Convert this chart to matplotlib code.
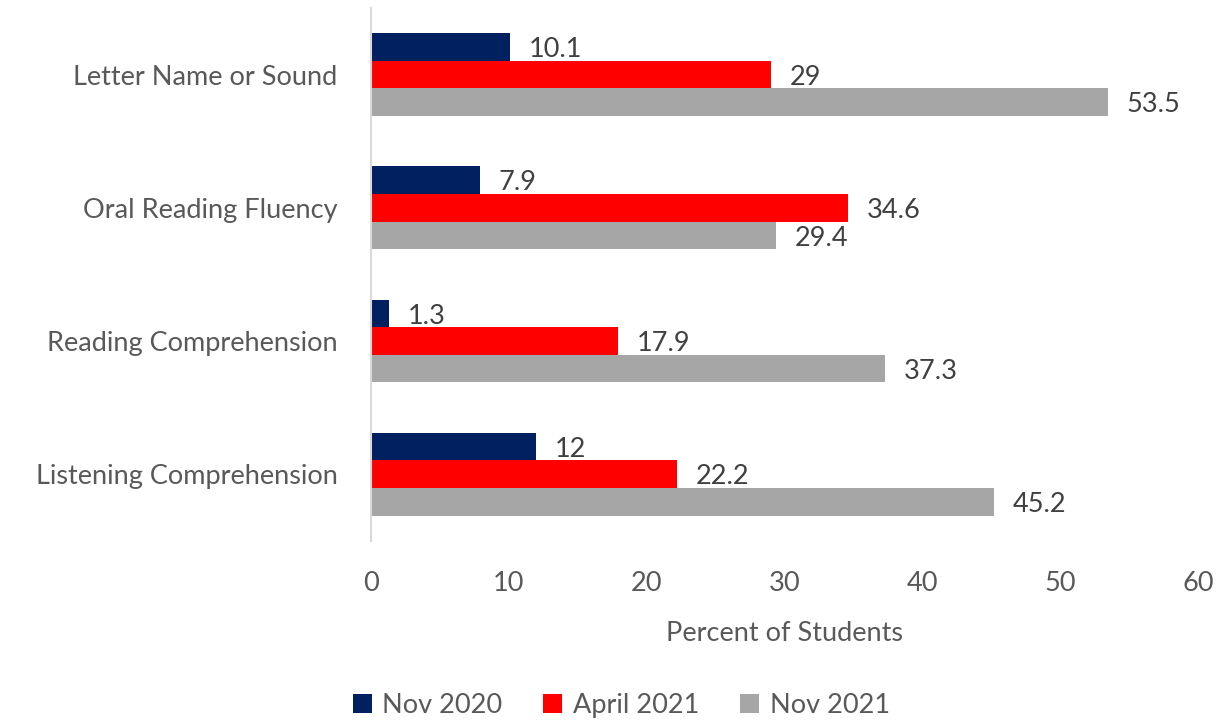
import matplotlib.pyplot as plt
import numpy as np

# share of students at risk, by skill and testing window
skills = ['Letter Name or Sound', 'Oral Reading Fluency',
          'Reading Comprehension', 'Listening Comprehension']
nov_2020 = [10.1, 7.9, 1.3, 12]
april_2021 = [29, 34.6, 17.9, 22.2]
nov_2021 = [53.5, 29.4, 37.3, 45.2]
x_ticks = [0, 10, 20, 30, 40, 50, 60]

txt = '#595959'
fs = 19.5
plt.rcParams['font.family'] = ['Lato', 'DejaVu Sans']

fig = plt.figure(figsize=(12.25, 7.24), dpi=100)
ax = fig.add_axes([0.3029, 0.253, 0.675, 0.736])

y = np.arange(len(skills))
h = 0.207
series = [
    (nov_2020, 'Nov 2020', '#002060', -h),
    (april_2021, 'April 2021', '#FF0000', 0),
    (nov_2021, 'Nov 2021', '#A6A6A6', h),
]
for vals, lab, col, off in series:
    bars = ax.barh(y + off, vals, height=h, color=col, label=lab)
    for b, v in zip(bars, vals):
        ax.text(b.get_width() + 1.35, b.get_y() + b.get_height() / 2 + 0.02,
                f'{v:g}', va='center', ha='left', fontsize=fs, color='#404040')

ax.set_ylim(3.5, -0.5)
ax.set_xlim(0, 60)
ax.set_xticks(x_ticks)
ax.set_yticks(y)
ax.set_yticklabels(skills)
ax.tick_params(axis='both', length=0, labelsize=fs, labelcolor=txt)
ax.tick_params(axis='x', pad=22)
ax.tick_params(axis='y', pad=24)
ax.set_xlabel('Percent of Students', fontsize=fs, color=txt, labelpad=18)

for s in ['top', 'right', 'bottom']:
    ax.spines[s].set_visible(False)
ax.spines['left'].set_color('#D9D9D9')
ax.spines['left'].set_linewidth(1.5)

handles, labels = ax.get_legend_handles_labels()
fig.legend(handles, labels, loc='lower center', bbox_to_anchor=(0.507, -0.025),
           ncol=3, frameon=False, fontsize=fs, labelcolor=txt,
           handlelength=0.7, handleheight=0.7, handletextpad=0.4,
           columnspacing=1.5)

fig.savefig('out.png', dpi=100)
